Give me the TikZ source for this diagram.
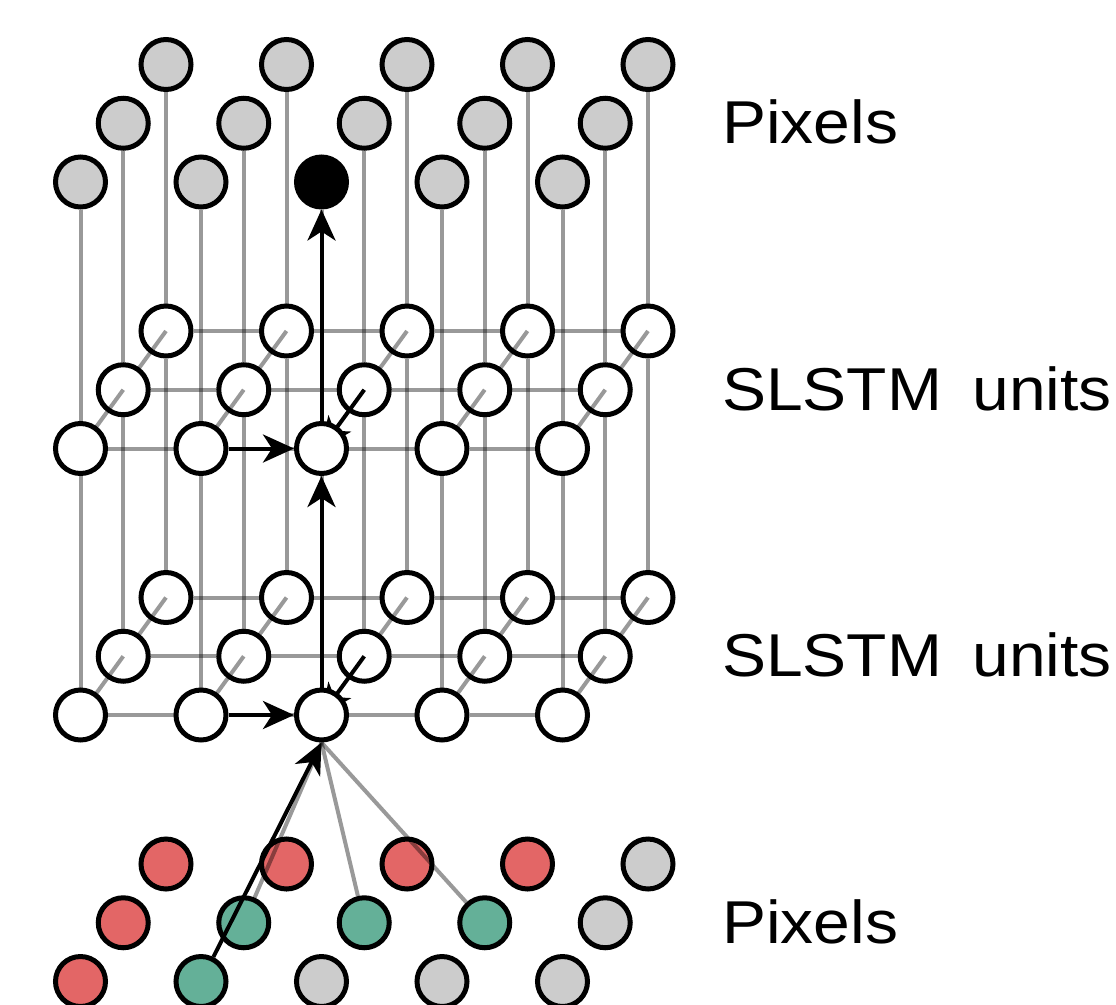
\documentclass[tikz,border=0pt]{standalone}
\usepackage{graphicx}
\usepackage{fontspec}
\setmainfont{Liberation Sans}
\usetikzlibrary{arrows.meta}

\definecolor{pixgray}{HTML}{CCCCCC}
\definecolor{pixred}{HTML}{E36666}
\definecolor{pixgreen}{HTML}{64B098}

% drawing order: grid lines, back row, back->middle links, middle row,
% middle->front links, front row, then arrows and labels on top
\pgfdeclarelayer{grid}
\pgfdeclarelayer{back}
\pgfdeclarelayer{bm}
\pgfdeclarelayer{mid}
\pgfdeclarelayer{mf}
\pgfdeclarelayer{front}
\pgfsetlayers{grid,back,bm,mid,mf,front,main}

\newcommand\widetext[1]{\scalebox{1.09}[1]{#1}}

\tikzset{
  unit/.style={circle, draw=black, line width=5pt, minimum size=50pt,
    inner sep=0pt, fill=white},
  gridline/.style={draw=black, draw opacity=0.4, line width=4pt},
  flow/.style={draw=black, line width=4pt,
    -{Stealth[length=31pt, width=28pt, inset=9pt]}},
  layername/.style={anchor=base west, inner sep=0pt,
    font=\fontsize{60.5}{62}\selectfont},
}

\begin{document}
\begin{tikzpicture}[x=1pt, y=-1pt]
\useasboundingbox (0,0) rectangle (1116,1004);

% ---- back row (r = 2) of every layer
\begin{pgfonlayer}{back}
  \foreach \c in {0,...,4} {
    \node[unit, fill=pixgray] (p-2-\c) at ({166+120.5*\c}, 64.5) {};
    \node[unit] (a-2-\c) at ({166+120.5*\c}, 331) {};
    \node[unit] (b-2-\c) at ({166+120.5*\c}, 597.5) {};
  }
  \foreach \c/\col in {0/pixred, 1/pixred, 2/pixred, 3/pixred, 4/pixgray}
    \node[unit, fill=\col] (q-2-\c) at ({166+120.5*\c}, 864) {};
\end{pgfonlayer}

% ---- middle row (r = 1)
\begin{pgfonlayer}{mid}
  \foreach \c in {0,...,4} {
    \node[unit, fill=pixgray] (p-1-\c) at ({123.25+120.5*\c}, 123.25) {};
    \node[unit] (a-1-\c) at ({123.25+120.5*\c}, 389.75) {};
    \node[unit] (b-1-\c) at ({123.25+120.5*\c}, 656.25) {};
  }
  \foreach \c/\col in {0/pixred, 1/pixgreen, 2/pixgreen, 3/pixgreen, 4/pixgray}
    \node[unit, fill=\col] (q-1-\c) at ({123.25+120.5*\c}, 922.75) {};
\end{pgfonlayer}

% ---- front row (r = 0)
\begin{pgfonlayer}{front}
  \foreach \c/\col in {0/pixgray, 1/pixgray, 2/black, 3/pixgray, 4/pixgray}
    \node[unit, fill=\col] (p-0-\c) at ({80.5+120.5*\c}, 182) {};
  \foreach \c in {0,...,4} {
    \node[unit] (a-0-\c) at ({80.5+120.5*\c}, 448.5) {};
    \node[unit] (b-0-\c) at ({80.5+120.5*\c}, 715) {};
  }
  \foreach \c/\col in {0/pixred, 1/pixgreen, 2/pixgray, 3/pixgray, 4/pixgray}
    \node[unit, fill=\col] (q-0-\c) at ({80.5+120.5*\c}, 981.5) {};
\end{pgfonlayer}

% ---- vertical and horizontal connections behind the units
\begin{pgfonlayer}{grid}
  \foreach \r in {0,1,2}
    \foreach \c in {0,...,4} {
      \draw[gridline] (b-\r-\c) -- (a-\r-\c);
      \draw[gridline] (a-\r-\c) -- (p-\r-\c);
    }
  \foreach \L in {a,b}
    \foreach \r in {0,1,2}
      \foreach \c/\d in {0/1, 1/2, 2/3, 3/4}
        \draw[gridline] (\L-\r-\c) -- (\L-\r-\d);
\end{pgfonlayer}

% ---- depth connections back -> middle, and pixel inputs
\begin{pgfonlayer}{bm}
  \foreach \L in {a,b}
    \foreach \c in {0,...,4}
      \draw[gridline] (\L-2-\c.center) -- (\L-1-\c.center);
  \foreach \c in {1,2,3}
    \draw[gridline] (b-0-2.south) -- (q-1-\c);
\end{pgfonlayer}

% ---- depth connections middle -> front
\begin{pgfonlayer}{mf}
  \foreach \L in {a,b} {
    \foreach \c in {0,1,3,4}
      \draw[gridline] (\L-1-\c.center) -- (\L-0-\c.center);
    \draw[flow] (\L-1-2.center) -- (\L-0-2.center);
  }
\end{pgfonlayer}

% ---- highlighted data flow
\draw[flow] (q-0-1) -- (b-0-2.south);
\draw[flow] (b-0-1) -- (b-0-2);
\draw[flow] (a-0-1) -- (a-0-2);
\draw[flow] (b-0-2) -- (a-0-2);
\draw[flow] (a-0-2) -- (p-0-2);

% ---- layer names
\node[layername] (name-p) at (722, 143.5) {\widetext{Pixels}};
\node[layername] (name-a) at (722, 410) {\widetext{SLSTM\hspace{28pt}units}};
\node[layername] (name-b) at (722, 676.5) {\widetext{SLSTM\hspace{28pt}units}};
\node[layername] (name-q) at (722, 943) {\widetext{Pixels}};
\end{tikzpicture}
\end{document}
